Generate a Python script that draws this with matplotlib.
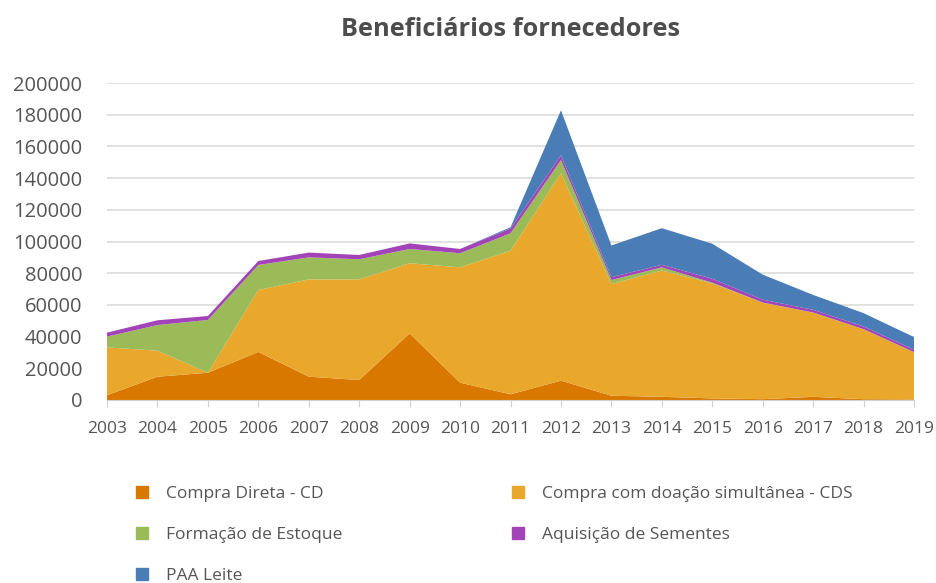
import matplotlib
matplotlib.use("Agg")
import matplotlib.pyplot as plt
from matplotlib.patches import Patch

plt.rcParams["font.family"] = ["Open Sans", "DejaVu Sans"]

years = list(range(2003, 2020))
compra_direta = [3000, 14700, 17200, 30300, 14700, 12600, 42000, 10900, 3600,
                 12200, 2700, 2000, 1000, 500, 2000, 500, 300]
compra_doacao = [30200, 16400, 0, 39100, 61400, 63500, 44300, 72800, 90600,
                 130800, 70500, 79700, 72600, 60900, 53100, 44100, 29800]
formacao_estoque = [6800, 16200, 33300, 15800, 13900, 12700, 9000, 8900, 11000,
                    8400, 2500, 2000, 400, 100, 100, 100, 100]
aquisicao_sementes = [2500, 3000, 2500, 2500, 3000, 2700, 3500, 2700, 3000,
                      3000, 1800, 1600, 2500, 1800, 1700, 1700, 1500]
paa_leite = [0, 0, 0, 0, 0, 0, 0, 0, 800, 28400, 20000, 23100, 22100, 15800,
             9400, 8400, 8000]

labels = ["Compra Direta - CD", "Compra com doação simultânea - CDS",
          "Formação de Estoque", "Aquisição de Sementes", "PAA Leite"]
colors = ["#d97800", "#e9a82b", "#9bbb59", "#a243b8", "#4a7db5"]
y_ticks = list(range(0, 200001, 20000))

fig = plt.figure(figsize=(9.37, 5.83), dpi=100)
ax = fig.add_axes([0.1142, 0.3139, 0.8613, 0.5437])

ax.stackplot(years, compra_direta, compra_doacao, formacao_estoque,
             aquisicao_sementes, paa_leite, colors=colors, linewidth=0)

ax.set_xlim(years[0], years[-1])
ax.set_ylim(0, 200000)
ax.set_yticks(y_ticks)
ax.set_yticklabels([str(v) for v in y_ticks])
ax.set_xticks(years)
ax.set_xticklabels([str(y) for y in years])
ax.grid(axis="y", color="#dcdcdc", linewidth=1.2)
ax.set_axisbelow(True)
for side in ["top", "right", "left"]:
    ax.spines[side].set_visible(False)
ax.spines["bottom"].set_color("#d0d0d0")
ax.tick_params(axis="y", length=0, labelsize=14.5, labelcolor="#555555", pad=18)
ax.tick_params(axis="x", length=5, color="#d0d0d0", labelsize=12.5,
               labelcolor="#555555", pad=10)

fig.text(0.545, 0.950, "Beneficiários fornecedores", ha="center", va="center",
         fontsize=18.3, fontweight="bold", color="#4d4d4d")

handles = [Patch(color=c) for c in colors]
order = [0, 2, 4, 1, 3]
fig.legend([handles[i] for i in order], [labels[i] for i in order],
           loc="upper left", bbox_to_anchor=(0.138, 0.178), ncol=2,
           frameon=False, fontsize=12.5, labelcolor="#555555",
           handlelength=0.7, handleheight=0.7, handletextpad=1.0,
           columnspacing=9.8, labelspacing=1.42, borderaxespad=0)

fig.savefig("out.png", dpi=100)
